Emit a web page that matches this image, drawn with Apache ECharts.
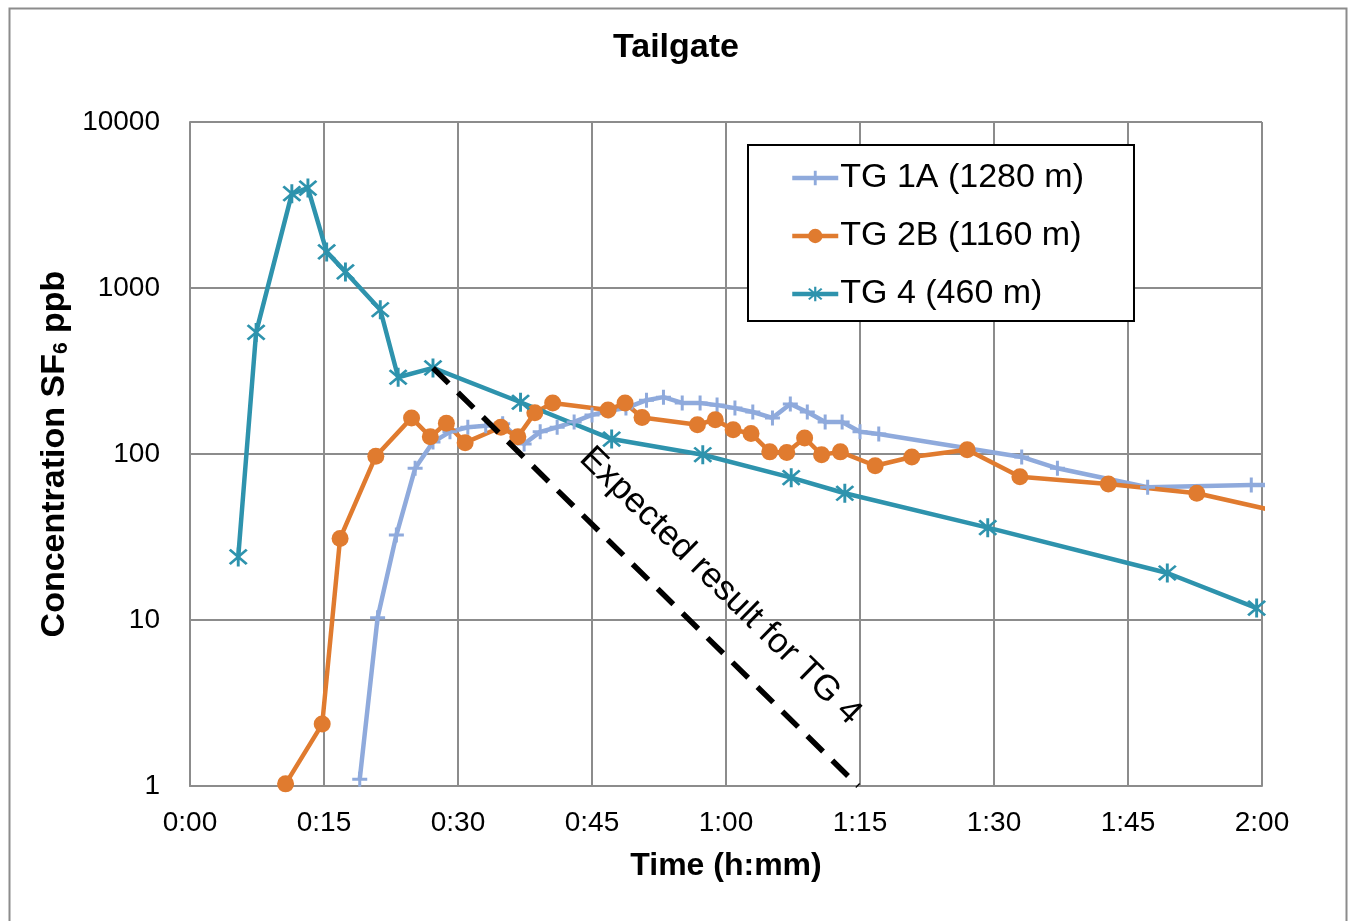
<!DOCTYPE html>
<html>
<head>
<meta charset="utf-8">
<script src="https://cdn.jsdelivr.net/npm/echarts@6/dist/echarts.min.js"></script>
<style>
html,body{margin:0;padding:0;background:#fff;}
#chart{width:1352px;height:921px;}
</style>
</head>
<body>
<div id="chart"></div>
<script>
// ---- Data (time in minutes, concentration in ppb) ----
const xTickLabels = ['0:00','0:15','0:30','0:45','1:00','1:15','1:30','1:45','2:00'];
const yTickLabels = ['1','10','100','1000','10000'];

const tg1aTime = [19.0,21.0,23.1,25.2,27.2,29.1,31.1,33.1,35.0,37.4,39.2,41.1,43.0,45.0,46.9,48.8,51.1,53.0,55.1,57.1,59.0,61.0,63.0,65.2,67.2,69.1,71.1,73.0,75.0,77.1,93.1,97.1,107.2,118.8,121];
const tg1aConc = [1.1,10.3,32.5,82,118,136,145,148,152,115,136,145,156,172,182,189,211,220,203,203,197,189,179,165,200,179,156,156,136,132,96,82,63,65,65];

const tg2bTime = [10.7,14.8,16.8,20.8,24.8,26.9,28.7,30.8,34.8,36.7,38.6,40.6,46.8,48.7,50.6,56.8,58.8,60.8,62.8,64.9,66.8,68.8,70.7,72.8,76.7,80.8,87.0,92.9,102.8,112.7,121];
const tg2bConc = [1.03,2.36,31,97,165,127,153,117,145,127,177,203,184,203,166,150,161,140,133,103,102,125,99,103,85,96,106,73,66,58,46];

const tg4Time = [5.4,7.4,11.4,13.2,15.3,17.4,21.3,23.3,27.2,37.0,47.2,57.4,67.3,73.3,89.3,109.4,119.4];
const tg4Conc = [24,540,3700,4000,1650,1250,740,290,330,205,123,99,72,58,36,19.2,11.8];

const expectedTime = [27.2,74.8];
const expectedConc = [330,1];
const expectedLabel = 'Expected result for TG 4';

const seriesNames = ['TG 1A (1280 m)','TG 2B (1160 m)','TG 4 (460 m)'];

function zip(a,b){return a.map((v,i)=>[v,b[i]]);}

const FONT = '"Liberation Sans", Arial, sans-serif';
const plusPath = 'path://M8,0 H12 V8 H20 V12 H12 V20 H8 V12 H0 V8 H8 Z';
const starPath = 'path://M8.7,0 H11.3 V20 H8.7 Z M1.5,3.3 L3.3,1.5 L18.5,16.7 L16.7,18.5 Z M16.7,1.5 L18.5,3.3 L3.3,18.5 L1.5,16.7 Z';

const chart = echarts.init(document.getElementById('chart'), null, {renderer:'canvas'});

const option = {
  backgroundColor:'#ffffff',
  animation:false,
  title:{
    text:'Tailgate', left:'center', top:26,
    textStyle:{fontFamily:FONT, fontSize:34, fontWeight:'bold', color:'#000'}
  },
  legend:{
    data:seriesNames,
    orient:'vertical',
    left:748, top:145,
    padding:[16,50,10,42],
    itemGap:24,
    itemWidth:46, itemHeight:18,
    borderColor:'#000', borderWidth:2,
    backgroundColor:'#fff',
    lineStyle:{width:4.5},
    textStyle:{fontFamily:FONT, fontSize:34, color:'#000', padding:[0,0,0,-3]}
  },
  grid:{left:190, right:90, top:122, bottom:135, show:false},
  xAxis:{
    type:'value', min:0, max:120, interval:15,
    name:'Time (h:mm)', nameLocation:'middle', nameGap:64,
    nameTextStyle:{fontFamily:FONT, fontSize:32, fontWeight:'bold', color:'#000'},
    axisLine:{show:true, lineStyle:{color:'#8c8c8c', width:2}},
    axisTick:{show:false},
    splitLine:{show:true, lineStyle:{color:'#8c8c8c', width:2}},
    axisLabel:{
      fontFamily:FONT, fontSize:28, color:'#000', margin:23,
      formatter:(v)=>xTickLabels[Math.round(v/15)]
    }
  },
  yAxis:{
    type:'log', logBase:10, min:1, max:10000,
    name:'{a|Concentration SF}{s|6}{a| ppb}', nameLocation:'middle', nameGap:118,
    nameRotate:90,
    nameTextStyle:{rich:{
      a:{fontFamily:FONT, fontSize:34, fontWeight:'bold', color:'#000'},
      s:{fontFamily:FONT, fontSize:21, fontWeight:'bold', color:'#000', verticalAlign:'bottom', padding:[13,0,0,0]}
    }},
    axisLine:{show:true, lineStyle:{color:'#8c8c8c', width:2}},
    axisTick:{show:false},
    splitLine:{show:true, lineStyle:{color:'#8c8c8c', width:2}},
    axisLabel:{
      fontFamily:FONT, fontSize:28, color:'#000', margin:30,
      formatter:(v)=>yTickLabels[Math.round(Math.log10(v))]
    }
  },
  series:[
    {
      name:seriesNames[0], type:'line', data:zip(tg1aTime,tg1aConc),
      color:'#8faadc', symbol:plusPath, symbolSize:15, showAllSymbol:true,
      lineStyle:{width:4.5, color:'#8faadc'}, itemStyle:{color:'#8faadc'}, clip:true
    },
    {
      name:seriesNames[1], type:'line', data:zip(tg2bTime,tg2bConc),
      color:'#e07b2f', symbol:'circle', symbolSize:17, showAllSymbol:true,
      lineStyle:{width:4.5, color:'#e07b2f'}, itemStyle:{color:'#e07b2f'}, clip:true
    },
    {
      name:seriesNames[2], type:'line', data:zip(tg4Time,tg4Conc),
      color:'#2e93ad', symbol:starPath, symbolSize:19, showAllSymbol:true,
      lineStyle:{width:4.5, color:'#2e93ad'}, itemStyle:{color:'#2e93ad'}, clip:true
    },
    {
      name:'expected', type:'line', data:zip(expectedTime,expectedConc),
      symbol:'none', lineStyle:{width:5.5, color:'#000', type:[22,13]}, silent:true, z:5
    }
  ]
};
chart.setOption(option);

// annotation text placed along the expected line
function placeLabel(){
  const p0 = chart.convertToPixel({gridIndex:0}, [expectedTime[0], expectedConc[0]]);
  const p1 = chart.convertToPixel({gridIndex:0}, [expectedTime[1], expectedConc[1]]);
  const dx = p1[0]-p0[0], dy = p1[1]-p0[1];
  const len = Math.sqrt(dx*dx+dy*dy);
  const ux = dx/len, uy = dy/len;
  const nx = uy, ny = -ux; // normal pointing up-right
  const t = 0.6, off = 46;
  const cx = p0[0] + dx*t + nx*off;
  const cy = p0[1] + dy*t + ny*off;
  const ang = Math.atan2(dy, dx);
  chart.setOption({
    graphic:[
      {type:'rect', left:7, top:6, shape:{width:1337, height:930},
       style:{fill:'none', stroke:'#8c8c8c', lineWidth:2}, silent:true, z:-10},
      {type:'text', x:cx, y:cy, rotation:-ang,
       style:{text:expectedLabel, font:'35px "Liberation Sans", Arial, sans-serif', fill:'#000',
              align:'center', verticalAlign:'middle'}, z:20}
    ]
  });
}
placeLabel();
</script>
</body>
</html>
